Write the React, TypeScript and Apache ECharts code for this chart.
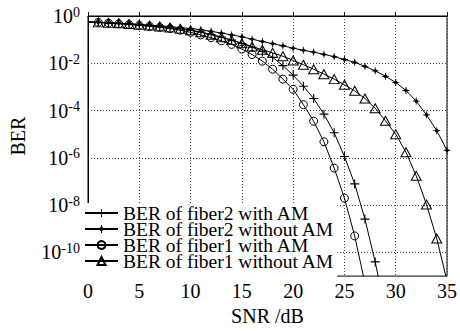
import React, { useEffect, useRef } from "react";
import * as echarts from "echarts";

// SNR in dB (one point per dB)
const snr = Array.from({ length: 36 }, (_, i) => i);

// log10(BER), index = SNR dB
const fiber2WithAM = [
  -0.25, -0.27, -0.29, -0.31, -0.34, -0.37, -0.4, -0.44, -0.49, -0.54, -0.6,
  -0.68, -0.78, -0.89, -1.02, -1.16, -1.32, -1.5, -1.75, -2.1, -2.5, -2.97,
  -3.49, -4.15, -4.94, -5.94, -7.1, -8.59, -10.4, -12.5,
];
const fiber2WithoutAM = [
  -0.25, -0.27, -0.29, -0.31, -0.33, -0.36, -0.39, -0.42, -0.45, -0.49, -0.53,
  -0.58, -0.65, -0.72, -0.8, -0.88, -0.98, -1.08, -1.17, -1.26, -1.36, -1.45,
  -1.53, -1.62, -1.72, -1.84, -1.96, -2.13, -2.32, -2.55, -2.81, -3.15, -3.6,
  -4.18, -4.85, -5.68,
];
const fiber1WithAM = [
  -0.25, -0.27, -0.3, -0.33, -0.36, -0.4, -0.44, -0.48, -0.53, -0.6, -0.69,
  -0.8, -0.92, -1.05, -1.2, -1.4, -1.63, -1.91, -2.25, -2.67, -3.1, -3.75,
  -4.45, -5.32, -6.43, -7.7, -9.3, -11.3,
];
const fiber1WithoutAM = [
  -0.25, -0.27, -0.29, -0.31, -0.34, -0.37, -0.4, -0.44, -0.49, -0.54, -0.6,
  -0.69, -0.79, -0.9, -1.02, -1.15, -1.29, -1.43, -1.56, -1.7, -1.88, -2.06,
  -2.25, -2.46, -2.67, -2.91, -3.16, -3.49, -3.9, -4.43, -5.0, -5.76, -6.76,
  -7.97, -9.41, -11.2,
];

const seriesNames = [
  "BER of fiber2 with AM",
  "BER of fiber2 without AM",
  "BER of fiber1 with AM",
  "BER of fiber1 without AM",
];
const yGridExponents = [-2, -4, -6, -8, -10];
const yLabelExponents = [0, -2, -4, -6, -8, -10];

const FONT = "'Liberation Serif', 'Times New Roman', serif";

const PLUS = "path://M0,4.4H10V5.6H0ZM4.4,0H5.6V10H4.4Z";
const STAR =
  "path://M0,4.4H10V5.6H0ZM4.4,0H5.6V10H4.4ZM1.6,5L5,1.6L8.4,5L5,8.4Z";

function toData(vals: number[]) {
  return vals.map((v, i) =>
    i === 0 ? { value: [snr[i], v], symbol: "none" } : { value: [snr[i], v] }
  );
}

export default function App() {
  const ref = useRef<HTMLDivElement>(null);
  useEffect(() => {
    if (!ref.current) return;
    const chart = echarts.init(ref.current, null, { renderer: "svg" });
    const line = { color: "#000", width: 1 };
    const hollow = {
      color: "rgba(255,255,255,0)",
      borderColor: "#000",
      borderWidth: 1,
    };
    const solid = { color: "#000", borderWidth: 0 };
    chart.setOption({
      animation: false,
      backgroundColor: "#fff",
      grid: {
        left: 75,
        right: 12,
        top: 16,
        bottom: 49,
        show: true,
        borderColor: "#000",
        borderWidth: 1,
        backgroundColor: "transparent",
      },
      legend: {
        orient: "vertical",
        left: 80,
        top: 203,
        padding: [0, 3, 6, 4],
        backgroundColor: "#fff",
        itemGap: -4,
        itemWidth: 33,
        itemHeight: 10,
        data: seriesNames,
        textStyle: {
          fontFamily: FONT,
          fontSize: 19.5,
          color: "#000",
        },
      },
      xAxis: {
        type: "value",
        min: 0,
        max: 35,
        interval: 5,
        name: "SNR /dB",
        nameLocation: "middle",
        nameGap: 27,
        nameTextStyle: { fontFamily: FONT, fontSize: 20, color: "#000" },
        axisLine: { lineStyle: { color: "#000", width: 1 } },
        axisTick: { inside: true, length: 4, lineStyle: { color: "#000" } },
        axisLabel: {
          fontFamily: FONT,
          fontSize: 20,
          color: "#000",
          margin: 5,
        },
        splitLine: {
          show: true,
          lineStyle: { color: "#444", type: [1, 2], width: 1 },
        },
      },
      yAxis: {
        type: "value",
        min: -11,
        max: 0,
        interval: 1,
        name: "BER",
        nameLocation: "middle",
        nameGap: 60,
        nameTextStyle: {
          fontFamily: FONT,
          fontSize: 20,
          color: "#000",
          padding: [0, 0, 0, 20],
        },
        axisLine: { lineStyle: { color: "#000", width: 1 } },
        axisTick: { show: false },
        splitLine: { show: false },
        axisLabel: {
          margin: 8,
          formatter: (v: number) =>
            yLabelExponents.indexOf(v) >= 0 ? `{b|10}{s|${v === 0 ? 0 : v}}` : "",
          rich: {
            b: { fontFamily: FONT, fontSize: 20, color: "#000", lineHeight: 22 },
            s: {
              fontFamily: FONT,
              fontSize: 14,
              color: "#000",
              lineHeight: 14,
              verticalAlign: "top",
            },
          },
        },
      },
      series: [
        {
          name: seriesNames[0],
          type: "line",
          data: toData(fiber2WithAM),
          symbol: PLUS,
          symbolSize: 9,
          lineStyle: line,
          itemStyle: solid,
          z: 3,
          markLine: {
            silent: true,
            symbol: ["none", "none"],
            label: { show: false },
            lineStyle: { color: "#444", type: [1, 2], width: 1 },
            data: yGridExponents.map((e) => ({ yAxis: e })),
            z: 1,
          },
        },
        {
          name: seriesNames[1],
          type: "line",
          data: toData(fiber2WithoutAM),
          symbol: STAR,
          symbolSize: 7,
          lineStyle: line,
          itemStyle: solid,
          z: 3,
        },
        {
          name: seriesNames[2],
          type: "line",
          data: toData(fiber1WithAM),
          symbol: "circle",
          symbolSize: 8,
          lineStyle: line,
          itemStyle: hollow,
          z: 3,
        },
        {
          name: seriesNames[3],
          type: "line",
          data: toData(fiber1WithoutAM),
          symbol: "triangle",
          symbolSize: [10, 9],
          lineStyle: line,
          itemStyle: hollow,
          z: 3,
        },
      ],
    });
    return () => chart.dispose();
  }, []);
  return (
    <div
      ref={ref}
      style={{ position: "absolute", left: 0, top: 0, width: 460, height: 331 }}
    />
  );
}
